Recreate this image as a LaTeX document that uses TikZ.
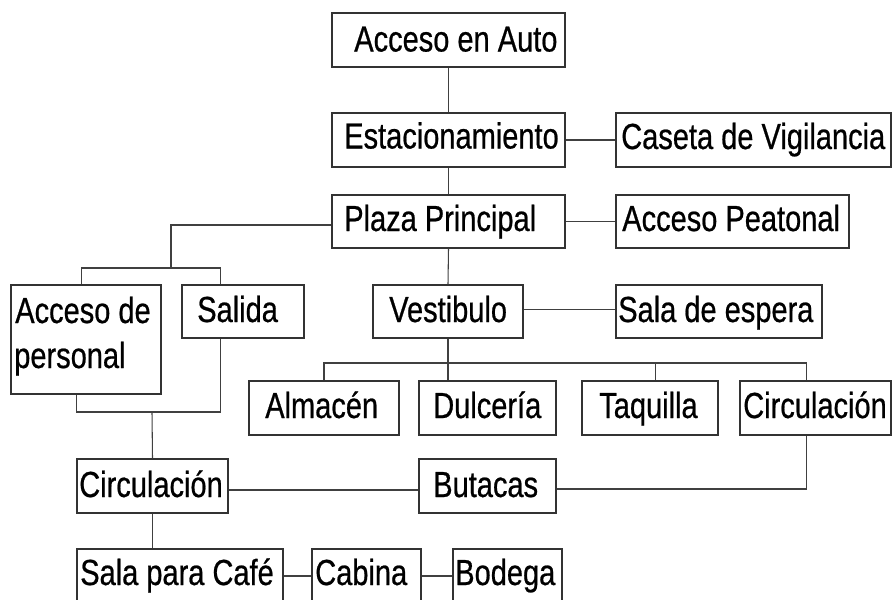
\documentclass[tikz,border=0pt]{standalone}
\usepackage{fontspec}
\setmainfont{Liberation Sans}[FakeStretch=0.8,FakeBold=0.6]
\usetikzlibrary{calc}
\tikzset{
  box/.style={draw=black!80, line width=0.8pt, rectangle, inner sep=0pt},
  lbl/.style={anchor=base west, inner sep=0pt, font=\fontsize{27.2pt}{33.75pt}\selectfont, text=black},
  conn/.style={draw=black!75, line width=0.8pt}
}
\newcommand\bx[5]{%
  \pgfmathsetmacro\bw{(#4-#2)*0.75}%
  \pgfmathsetmacro\bh{(#5-#3)*0.75}%
  \node[box, minimum width=\bw pt, minimum height=\bh pt] (#1) at ({(#2+#4)/2},{(#3+#5)/2}) {};}
\begin{document}
\begin{tikzpicture}[x=0.75pt, y=-0.75pt]
\useasboundingbox (0,0) rectangle (893,600);
\clip (0,0) rectangle (893,600);
% boxes
\bx{auto}{332}{13}{565}{67}
\bx{est}{332}{113}{565}{167}
\bx{plaza}{332}{195}{565}{248}
\bx{caseta}{616}{113}{891}{167}
\bx{peat}{616}{195}{849}{248}
\bx{acpers}{11}{285}{161}{394}
\bx{salida}{182}{285}{304}{338}
\bx{vest}{373}{285}{523}{338}
\bx{espera}{616}{285}{822}{338}
\bx{almacen}{249}{381}{399}{435}
\bx{dulc}{419}{381}{556}{435}
\bx{taq}{582}{381}{718}{435}
\bx{circR}{740}{381}{891}{435}
\bx{circL}{77}{459}{228}{513}
\bx{butacas}{419}{459}{556}{513}
\bx{cafe}{77}{549}{283}{603}
\bx{cabina}{312}{549}{421}{603}
\bx{bodega}{453}{549}{562}{603}
% labels
\node[lbl] at (354,51.5) {Acceso en Auto};
\node[lbl] at (344,148.5) {Estacionamiento};
\node[lbl] at (344,231) {Plaza Principal};
\node[lbl] at (621,149) {Caseta de Vigilancia};
\node[lbl] at (622,231) {Acceso Peatonal};
\node[lbl] at (15,323) {Acceso de};
\node[lbl] at (14,368) {personal};
\node[lbl] at (197,322) {Salida};
\node[lbl] at (389,322) {Vestibulo};
\node[lbl] at (618,322) {Sala de espera};
\node[lbl] at (265,418) {Almacén};
\node[lbl] at (433,418) {Dulcería};
\node[lbl] at (599,418) {Taquilla};
\node[lbl] at (743,418) {Circulación};
\node[lbl] at (79,497) {Circulación};
\node[lbl] at (433,497) {Butacas};
\node[lbl] at (80,585) {Sala para Café};
\node[lbl] at (315,585) {Cabina};
\node[lbl] at (455,585) {Bodega};
% junction coordinates
\coordinate (bA) at (171,268);
\coordinate (bV) at (448,363);
\coordinate (bP) at (152,412);
% connectors
\draw[conn] (auto.south) -- (est.north);
\draw[conn] (est.south) -- (plaza.north);
\draw[conn] (est.east) -- (caseta.west);
\draw[conn] (plaza.east) -- (peat.west);
\draw[conn] ($(plaza.west)+(0,3.5)$) -| (bA);
\draw[conn] ($(acpers.north west)+(71,0)$) |- (bA) -| ($(salida.north west)+(39,0)$);
\draw[conn] (plaza.south) -- (vest.north);
\draw[conn] ($(vest.east)+(0,-2)$) -- ($(espera.west)+(0,-2)$);
\draw[conn] (vest.south) -- (bV);
\draw[conn] (almacen.north) |- (bV) -| ($(circR.north west)+(67,0)$);
\draw[conn] (bV) -- (bV |- dulc.north);
\draw[conn] ($(taq.north west)+(74,0)$) -- ++(0,-18);
\draw[conn] ($(circR.south west)+(67,0)$) |- ($(butacas.east)+(0,3)$);
\draw[conn] ($(circL.east)+(0,4)$) -- ($(butacas.west)+(0,4)$);
\draw[conn] ($(acpers.south west)+(66,0)$) |- (bP) -| ($(salida.south west)+(39,0)$);
\draw[conn] (bP) -- (circL.north);
\draw[conn] (circL.south) -- (circL.south |- cafe.north);
\draw[conn] (cafe.east) -- (cabina.west);
\draw[conn] (cabina.east) -- (bodega.west);
\end{tikzpicture}
\end{document}
